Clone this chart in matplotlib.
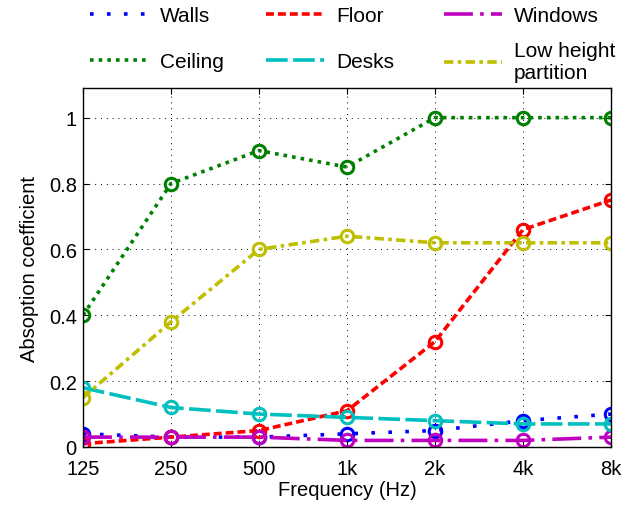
import numpy as np
import matplotlib.pyplot as plt
from matplotlib.lines import Line2D

plt.rcParams['font.family'] = ['Liberation Sans', 'DejaVu Sans']

# frequency bands
freq_labels = ['125', '250', '500', '1k', '2k', '4k', '8k']
x = np.arange(len(freq_labels))

# absorption coefficients
walls = [0.04, 0.03, 0.03, 0.04, 0.05, 0.08, 0.10]
floor = [0.01, 0.03, 0.05, 0.11, 0.32, 0.66, 0.75]
windows = [0.03, 0.03, 0.03, 0.02, 0.02, 0.02, 0.03]
ceiling = [0.40, 0.80, 0.90, 0.85, 1.00, 1.00, 1.00]
desks = [0.18, 0.12, 0.10, 0.09, 0.08, 0.07, 0.07]
partition = [0.15, 0.38, 0.60, 0.64, 0.62, 0.62, 0.62]

series = [
    ('Walls', walls, (0, 0, 1), (0, (1, 3.7))),
    ('Floor', floor, (1, 0, 0), (0, (2.2, 1.1))),
    ('Windows', windows, (0.75, 0, 0.75), (0, (8, 2, 1, 2))),
    ('Ceiling', ceiling, (0, 0.5, 0), (0, (1, 1.4))),
    ('Desks', desks, (0, 0.75, 0.75), (0, (6, 1.5))),
    ('Low height\npartition', partition, (0.75, 0.75, 0), (0, (2.6, 1.2, 1, 1.2))),
]

fig = plt.figure(figsize=(6.32, 5.06), dpi=100)
ax = fig.add_axes([83/632, 1 - 448/506, 528/632, 359/506])

lw = 2.6
handles = []
for name, vals, col, ls in series:
    ax.plot(x, vals, color=col, linestyle=ls, lw=lw, dash_capstyle='butt',
            marker='o', markersize=9, markerfacecolor='none', markeredgewidth=2.2)
    handles.append(Line2D([], [], color=col, linestyle=ls, lw=lw, dash_capstyle='butt'))

ax.set_xlim(0, 6)
ax.set_ylim(0, 1.09)
ax.set_xticks(x)
ax.set_xticklabels(freq_labels)
ax.set_yticks([0, 0.2, 0.4, 0.6, 0.8, 1])
ax.set_yticklabels(['0', '0.2', '0.4', '0.6', '0.8', '1'])
ax.tick_params(direction='in', labelsize=14.5, length=4, width=0.8, top=True, right=True)
ax.tick_params(axis='y', pad=4.5)
ax.tick_params(axis='x', pad=9)
ax.grid(True, linestyle=(0, (1, 5)), color='black', linewidth=0.7)
ax.set_xlabel('Frequency (Hz)', fontsize=14.5, labelpad=1)
ax.set_ylabel('Absoption coefficient', fontsize=14.5, labelpad=7)
for s in ax.spines.values():
    s.set_linewidth(1)
ax.set_axisbelow(True)

# legend: 2 rows x 3 equal-width columns above the axes
col_x = [90, 90 + 176, 90 + 354]
row_y = [17, 63]
for i, (name, vals, col, ls) in enumerate(series):
    lx = col_x[i % 3]
    ly = row_y[i // 3]
    fig.legend([handles[i]], [name], loc='center left',
               bbox_to_anchor=(lx / 632, 1 - ly / 506), frameon=False,
               fontsize=15, borderpad=0, borderaxespad=0,
               handlelength=2.8, handletextpad=0.55)

fig.savefig('out.png', dpi=100)
